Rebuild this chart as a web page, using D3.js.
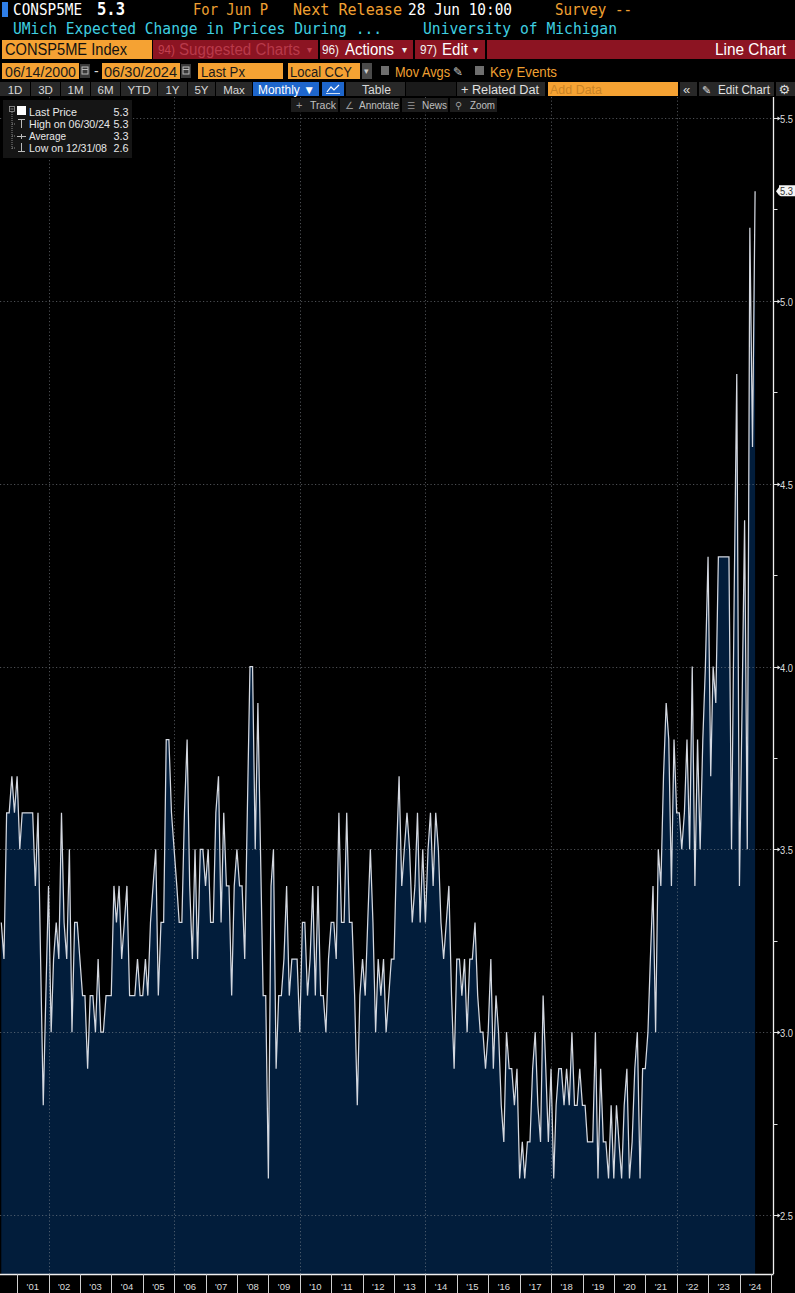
<!DOCTYPE html>
<html><head><meta charset="utf-8">
<script src="https://cdn.jsdelivr.net/npm/d3@7"></script>
<style>html,body{margin:0;padding:0;background:#000;overflow:hidden}svg{display:block}</style>
</head><body>
<svg id="c" width="795" height="1293"></svg>
<script>
// ---------- DATA ----------
const startYear = 2000, startMonthIndex = 5; // June 2000 (month-end observations)
const values = [
3.3,3.2,3.6,3.6,3.7,3.6,3.7,3.5,3.6,3.6,
3.6,3.6,3.6,3.4,3.6,3.2,2.8,3.1,3.4,3.0,
3.2,3.3,3.2,3.6,3.3,3.2,3.5,3.0,3.3,3.3,
3.2,3.1,3.1,2.9,3.1,3.1,3.0,3.2,3.0,3.0,
3.1,3.1,3.1,3.4,3.3,3.4,3.2,3.3,3.4,3.1,
3.1,3.1,3.2,3.1,3.1,3.2,3.1,3.3,3.4,3.5,
3.1,3.3,3.3,3.8,3.8,3.6,3.5,3.4,3.3,3.3,
3.6,3.8,3.4,3.2,3.5,3.2,3.5,3.5,3.4,3.5,
3.3,3.3,3.6,3.7,3.3,3.6,3.4,3.4,3.1,3.4,
3.5,3.4,3.4,3.2,3.6,4.0,4.0,3.5,3.9,3.5,
3.1,3.1,2.6,3.4,3.5,2.9,3.1,3.1,3.2,3.4,
3.1,3.2,3.2,3.2,3.0,3.3,3.3,3.1,3.2,3.4,
3.1,3.4,3.1,3.1,3.0,3.2,3.3,3.3,3.2,3.6,
3.3,3.3,3.6,3.3,3.3,3.1,2.8,3.1,3.2,3.1,
3.3,3.5,3.3,3.0,3.2,3.1,3.2,3.0,3.1,3.2,
3.2,3.5,3.7,3.4,3.5,3.6,3.5,3.3,3.4,3.6,
3.3,3.5,3.3,3.5,3.6,3.4,3.6,3.5,3.3,3.2,
3.3,3.4,3.1,2.9,3.2,3.2,3.1,3.2,3.0,3.2,
3.2,3.3,3.1,3.0,3.0,2.9,3.0,3.2,2.9,3.1,
3.0,2.8,2.7,3.0,2.9,2.9,2.8,2.9,2.6,2.7,
2.6,2.7,2.7,2.9,3.0,2.8,2.7,3.1,2.9,2.7,
2.9,2.6,2.8,2.9,2.9,2.8,2.9,2.8,3.0,2.8,
2.8,2.9,2.8,2.8,2.7,2.7,2.7,3.0,2.6,2.9,
2.7,2.7,2.6,2.8,2.6,2.8,2.7,2.6,2.8,2.9,
2.6,2.7,2.9,3.0,2.6,2.9,2.9,3.0,3.2,3.4,
3.0,3.5,3.4,3.7,3.9,3.8,3.4,3.8,3.6,3.6,
3.5,3.6,3.8,3.5,4.0,3.4,3.8,3.5,3.8,4.0,
4.3,3.7,4.0,3.9,4.3,4.3,4.3,4.3,4.3,3.5,
4.2,4.8,3.4,3.9,4.4,3.5,5.2,4.6,5.3
];
const yTickValues = [2.5,3.0,3.5,4.0,4.5,5.0,5.5];
const yTickLabels = ["2.5","3.0","3.5","4.0","4.5","5.0","5.5"];
const yMinorValues = [2.75,3.25,3.75,4.25,4.75,5.25];
const tickYears = d3.range(2001, 2026);
const yearLabels = ["'01","'02","'03","'04","'05","'06","'07","'08","'09","'10","'11","'12","'13","'14","'15","'16","'17","'18","'19","'20","'21","'22","'23","'24"];
const gridYears = [2002,2006,2010,2014,2018,2022];
const legendNames = ["Last Price","High on 06/30/24","Average","Low on 12/31/08"];
const legendValues = ["5.3","5.3","3.3","2.6"];
const lastLabel = "5.3";

const data = values.map((v,i)=>({date:new Date(Date.UTC(startYear, startMonthIndex+1+i, 0)), v}));

// ---------- SETUP ----------
const svg = d3.select("#c");
svg.append("rect").attr("width",795).attr("height",1293).attr("fill","#000");

const PL=0, PR=773.5, PT=97, PB=1274;
const x = d3.scaleUtc().domain([new Date(Date.UTC(2001,0,1)), new Date(Date.UTC(2025,0,1))]).range([17.2, 771]);
const y = d3.scaleLinear().domain([2.5,5.5]).range([1215,118]);

const SANS = "'Liberation Sans', Arial, sans-serif";
const MONO = "'DejaVu Sans Mono', 'Liberation Mono', monospace";
function T(g,x0,y0,s,o={}){
  const t=g.append("text").attr("x",x0).attr("y",y0).text(s)
    .attr("font-family",o.f||SANS).attr("font-size",o.s||12).attr("fill",o.c||"#fff");
  if(o.w) t.attr("font-weight",o.w);
  if(o.len) t.attr("textLength",o.len).attr("lengthAdjust","spacingAndGlyphs");
  if(o.a) t.attr("text-anchor",o.a);
  return t;
}
function R(g,x0,y0,w,h,c){return g.append("rect").attr("x",x0).attr("y",y0).attr("width",w).attr("height",h).attr("fill",c);}

// ---------- PLOT ----------
const plot = svg.append("g");
plot.append("defs").append("clipPath").attr("id","clip").append("rect")
  .attr("x",PL).attr("y",PT).attr("width",PR-PL).attr("height",PB-PT);
const pg = plot.append("g").attr("clip-path","url(#clip)");

const area = d3.area().x(d=>x(d.date)).y0(PB).y1(d=>y(d.v));
pg.append("path").datum(data).attr("d",area).attr("fill","#021d3b");

// gridlines
pg.selectAll(".hg").data(yTickValues).join("line")
  .attr("x1",PL).attr("x2",PR).attr("y1",d=>Math.round(y(d))+0.5).attr("y2",d=>Math.round(y(d))+0.5)
  .attr("stroke","#8a8f98").attr("stroke-opacity",0.55).attr("stroke-width",1).attr("stroke-dasharray","1.2,2.3");
pg.selectAll(".vg").data(gridYears).join("line")
  .attr("x1",d=>Math.round(x(new Date(Date.UTC(d,0,1))))+0.5).attr("x2",d=>Math.round(x(new Date(Date.UTC(d,0,1))))+0.5)
  .attr("y1",PT).attr("y2",PB)
  .attr("stroke","#8a8f98").attr("stroke-opacity",0.55).attr("stroke-width",1).attr("stroke-dasharray","1.2,2.3");

const line = d3.line().x(d=>x(d.date)).y(d=>y(d.v));
pg.append("path").datum(data).attr("d",line).attr("fill","none")
  .attr("stroke","#d4d8e0").attr("stroke-width",1.25).attr("stroke-linejoin","miter");

// right axis
const ax = svg.append("g");
ax.append("line").attr("x1",PR).attr("x2",PR).attr("y1",PT).attr("y2",PB).attr("stroke","#f0f0f0").attr("stroke-width",1.3);
ax.append("line").attr("x1",0).attr("x2",PR).attr("y1",PB+0.5).attr("y2",PB+0.5).attr("stroke","#f0f0f0").attr("stroke-width",1.3);
yTickValues.forEach((v,i)=>{
  const yy=Math.round(y(v))+0.5;
  ax.append("line").attr("x1",PR).attr("x2",PR+6).attr("y1",yy).attr("y2",yy).attr("stroke","#e0e0e0").attr("stroke-width",1);
  ax.append("path").attr("d",`M${PR+4},${yy-2}L${PR+7},${yy}L${PR+4},${yy+2}Z`).attr("fill","#e0e0e0");
  T(ax,780,yy+4,yTickLabels[i],{s:11,c:"#dcdcdc",len:13});
});
yMinorValues.forEach(v=>{
  const yy=Math.round(y(v))+0.5;
  ax.append("line").attr("x1",PR).attr("x2",PR+4).attr("y1",yy).attr("y2",yy).attr("stroke","#e0e0e0").attr("stroke-width",1);
});
// last value label
{
  const yy=y(values[values.length-1]);
  const g=ax.append("g");
  g.append("path").attr("d",`M776,${yy}L779,${yy-4}L779,${yy-6}Q779,${yy-6} 781,${yy-6}L795,${yy-6}L795,${yy+5}L781,${yy+5}Q779,${yy+5} 779,${yy+3}L779,${yy+4}Z`)
    .attr("fill","#f4f4f4");
  T(g,780,yy+3.5,lastLabel,{s:10,c:"#333",len:13});
}
// bottom axis ticks + labels
tickYears.forEach(yr=>{
  const xx=Math.round(x(new Date(Date.UTC(yr,0,1))))+0.5;
  ax.append("line").attr("x1",xx).attr("x2",xx).attr("y1",PB).attr("y2",1293).attr("stroke","#cfcfcf").attr("stroke-width",1);
});
yearLabels.forEach((lab,i)=>{
  const xx=x(new Date(Date.UTC(2001+i,6,1)));
  T(ax,xx,1289.5,lab,{s:9.5,c:"#dcdcdc",a:"middle"});
});

// ---------- HEADER ----------
const h = svg.append("g");
const ORANGE="#f0a032", CYAN="#3fcfe0", BOXOR="#f5a233", RED="#8c1422";
R(h,2,2,6,15,"#2f7fe8");
T(h,13,15,"CONSP5ME",{f:MONO,s:16,len:69});
T(h,97,15,"5.3",{f:MONO,s:17,w:"bold",len:28});
T(h,193,15,"For Jun P",{f:MONO,s:16,c:ORANGE,len:75});
T(h,293,15,"Next Release",{f:MONO,s:16,c:ORANGE,len:109});
T(h,408,15,"28 Jun 10:00",{f:MONO,s:16,len:104});
T(h,555,15,"Survey --",{f:MONO,s:16,c:ORANGE,len:77});
T(h,13,34,"UMich Expected Change in Prices During ...",{f:MONO,s:16,c:CYAN,len:369});
T(h,423,34,"University of Michigan",{f:MONO,s:16,c:CYAN,len:194});

// row 3
R(h,2,40,150,19,BOXOR);
T(h,5,55,"CONSP5ME Index",{s:16,c:"#111",len:122});
R(h,153,40,165,19,RED);
R(h,320,40,93,19,RED);
R(h,415,40,70,19,RED);
R(h,487,40,308,19,RED);
T(h,158,54,"94)",{s:12,c:"#c2404f",len:17});
T(h,179,55,"Suggested Charts",{s:16,c:"#b93a4a",len:121});
T(h,307,53,"▾",{s:10,c:"#c2404f"});
T(h,322,54,"96)",{s:12,c:"#f2f2f2",len:17});
T(h,345,55,"Actions",{s:16,c:"#fff",len:49});
T(h,402,53,"▾",{s:10,c:"#eee"});
T(h,420,54,"97)",{s:12,c:"#f2f2f2",len:17});
T(h,442,55,"Edit",{s:16,c:"#fff",len:26});
T(h,473,53,"▾",{s:10,c:"#eee"});
T(h,786,55,"Line Chart",{s:16,c:"#fff",a:"end",len:71});

// row 4
function calIcon(x0){
  R(h,x0,64,10,14,"#3a3a3a");
  h.append("rect").attr("x",x0+2).attr("y",67).attr("width",6).attr("height",7).attr("fill","none").attr("stroke","#bbb").attr("stroke-width",1);
  h.append("line").attr("x1",x0+2).attr("x2",x0+8).attr("y1",69.5).attr("y2",69.5).attr("stroke","#bbb");
}
R(h,2,63,77,16,BOXOR); T(h,5,76.5,"06/14/2000",{s:14,c:"#1a1a1a",len:71}); calIcon(80);
T(h,94,76,"-",{s:14,c:"#ddd"});
R(h,102,63,78,16,BOXOR); T(h,104,76.5,"06/30/2024",{s:14,c:"#1a1a1a",len:73}); calIcon(181);
R(h,198,63,85,16,BOXOR); T(h,201,76.5,"Last Px",{s:14,c:"#1a1a1a",len:44});
R(h,288,63,72,16,BOXOR); T(h,290,76.5,"Local CCY",{s:14,c:"#1a1a1a",len:62});
R(h,362,63,10,16,"#4a4a4a"); T(h,363.5,74,"▾",{s:9,c:"#ccc"});
R(h,381,66,8,9,"#6e6e6e");
T(h,395,76.5,"Mov Avgs",{s:14,c:ORANGE,len:55});
T(h,453,76,"✎",{s:12,c:"#ccc",f:"'DejaVu Sans'"});
R(h,475,66,9,9,"#6e6e6e");
T(h,490,76.5,"Key Events",{s:14,c:ORANGE,len:67});

// row 5
const BTN="#282828";
const btns=[[0,30,"1D"],[31,60,"3D"],[61,90,"1M"],[91,120,"6M"],[121,157,"YTD"],[158,187,"1Y"],[188,215,"5Y"],[216,252,"Max"]];
btns.forEach(([a,b,s])=>{R(h,a,82,b-a,14,BTN);T(h,(a+b)/2,93.5,s,{s:11.5,c:"#d8d8d8",a:"middle"});});
R(h,253,82,66,14,"#1e66cc"); T(h,258,93.5,"Monthly ▼",{s:12,c:"#fff",len:57});
R(h,322,82,22,14,"#1e66cc");
h.append("polyline").attr("points","327,92 331,87 334,90 339,85").attr("fill","none").attr("stroke","#fff").attr("stroke-width",1.2);
h.append("line").attr("x1",326).attr("x2",340).attr("y1",93.5).attr("y2",93.5).attr("stroke","#fff").attr("stroke-width",0.8);
R(h,346,82,59,14,BTN); T(h,362,93.5,"Table",{s:12,c:"#d8d8d8",len:29});
R(h,406,82,50,14,"#1a1a1a");
R(h,457,82,88,14,BTN); T(h,461,93.5,"+ Related Dat",{s:12,c:"#e0e0e0",len:78});
R(h,548,82,130,14,BOXOR); T(h,550,93.5,"Add Data",{s:12,c:"#c98325",len:52});
R(h,680,82,17,14,BTN); T(h,683,93.5,"«",{s:13,c:"#ddd"});
R(h,699,82,75,14,BTN); T(h,702,93.5,"✎",{s:11,c:"#ddd",f:"'DejaVu Sans'"}); T(h,718,93.5,"Edit Chart",{s:12,c:"#e0e0e0",len:52});
R(h,776,82,19,14,BTN); T(h,778.5,94,"⚙",{s:13,c:"#ddd",f:"'DejaVu Sans'"});

// row 6
const B6="#1c1c1c";
R(h,291,98,47,14,B6); T(h,296,108.5,"+",{s:11,c:"#999"}); T(h,310,108.5,"Track",{s:10.5,c:"#c0c0c0",len:26});
R(h,340,98,60,14,B6); T(h,345,108.5,"∠",{s:10,c:"#999",f:"'DejaVu Sans'"}); T(h,359,108.5,"Annotate",{s:10.5,c:"#c0c0c0",len:40});
R(h,402,98,46,14,B6); T(h,407,108.5,"☰",{s:9,c:"#999",f:"'DejaVu Sans'"}); T(h,422,108.5,"News",{s:10.5,c:"#c0c0c0",len:25});
R(h,450,98,47,14,B6); T(h,455,108.5,"⚲",{s:10,c:"#999",f:"'DejaVu Sans'"}); T(h,470,108.5,"Zoom",{s:10.5,c:"#c0c0c0",len:25});

// legend
const lg = svg.append("g");
R(lg,3,100,129,58,"#151515");
lg.append("rect").attr("x",9.5).attr("y",106.5).attr("width",5).attr("height",5).attr("fill","none").attr("stroke","#999").attr("stroke-width",0.8);
lg.append("line").attr("x1",10.5).attr("x2",13.5).attr("y1",109).attr("y2",109).attr("stroke","#999").attr("stroke-width",0.8);
lg.append("line").attr("x1",12).attr("x2",12).attr("y1",112).attr("y2",149).attr("stroke","#888").attr("stroke-dasharray","1,1");
[124,136,148].forEach(yy=>lg.append("line").attr("x1",12).attr("x2",16).attr("y1",yy).attr("y2",yy).attr("stroke","#888").attr("stroke-dasharray","1,1"));
R(lg,17,106,9,9,"#fff");
lg.append("path").attr("d","M18,119.5H25M21.5,119.5V128").attr("stroke","#bbb").attr("fill","none");
lg.append("path").attr("d","M17,136.5H26M21.5,134V139").attr("stroke","#bbb").attr("fill","none");
lg.append("path").attr("d","M21.5,143V151M18,151.5H25").attr("stroke","#bbb").attr("fill","none");
const lgLens=[48,81,37,78];
legendNames.forEach((n,i)=>{
  T(lg,29,115.5+i*12.2,n,{s:11,c:"#e8e8e8",len:lgLens[i]});
  T(lg,113.5,115.5+i*12.2,legendValues[i],{s:11,c:"#e8e8e8",len:15});
});
</script>
</body></html>
